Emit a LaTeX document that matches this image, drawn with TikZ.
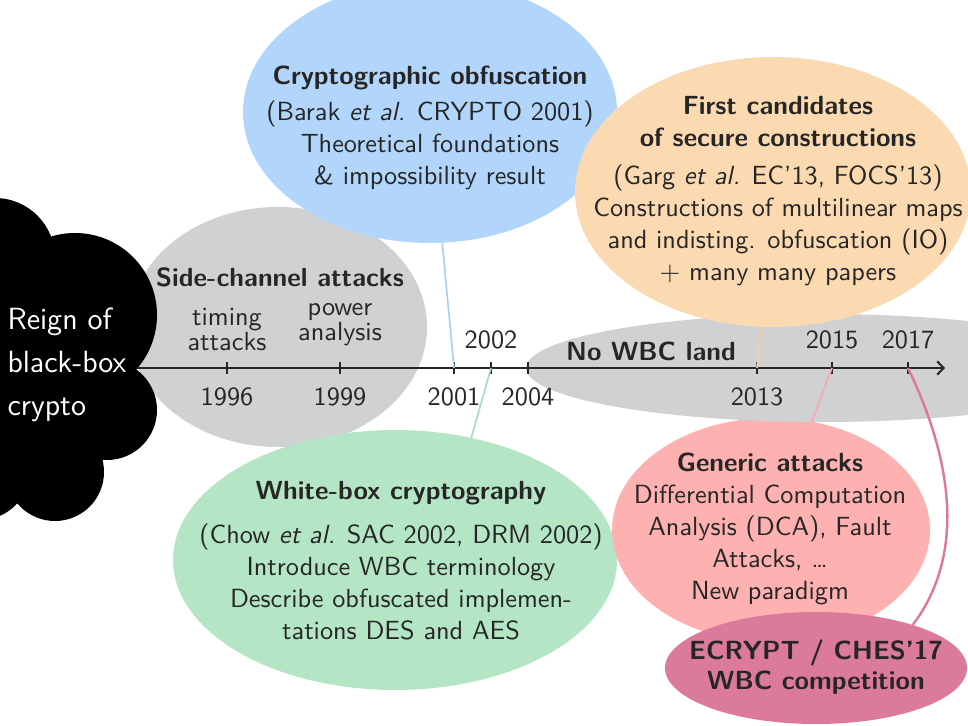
\documentclass[tikz,border=0pt]{standalone}
\usetikzlibrary{shapes.geometric,arrows.meta}

\definecolor{ink}{RGB}{38,38,38}
\definecolor{scgray}{RGB}{208,209,211}
\definecolor{skyblue}{RGB}{178,214,251}
\definecolor{peach}{RGB}{251,218,178}
\definecolor{mint}{RGB}{180,230,197}
\definecolor{rose}{RGB}{253,177,177}
\definecolor{berry}{RGB}{220,122,155}
\definecolor{skyline}{RGB}{170,205,245}
\definecolor{mintline}{RGB}{165,222,182}
\definecolor{peachline}{RGB}{248,206,158}
\definecolor{roseline}{RGB}{248,168,172}
\definecolor{berryline}{RGB}{222,120,155}

\begin{document}
\begin{tikzpicture}[
  x=0.375pt, y=-0.375pt,
  % filled ellipse of given fill, x radius and y radius (in px units)
  blob/.style n args={3}{ellipse, fill=#1, draw=none,
    minimum width=#2*0.75pt, minimum height=#3*0.75pt,
    inner sep=0pt, outer sep=0pt},
  txt/.style={font=\sffamily\fontsize{9.85}{12}\selectfont, text=ink,
    align=center, inner sep=0pt},
  boldtxt/.style={txt, font=\sffamily\bfseries\fontsize{9.85}{12}\selectfont},
  pairtxt/.style={txt, font=\sffamily\fontsize{9.85}{9.4}\selectfont},
  axisline/.style={draw=ink, line width=0.75pt,
    -{Straight Barb[length=2.4pt,width=5pt,line width=0.75pt]}},
  tickmark/.style={draw=ink, line width=0.75pt},
  link/.style={draw=#1, line width=0.6pt},
]
\useasboundingbox (0,0) rectangle (968,726);

% ---- background bubbles ----
\node[blob={scgray}{149}{120}] (side) at (278,327) {};
\node[blob={skyblue}{187}{131}] (obf) at (430,112) {};
\node[blob={mint}{222}{130}] (wbc) at (395,560) {};
\node[blob={rose}{159}{112}] (generic) at (771,530) {};
\node[blob={scgray}{296}{54}] (nowbc) at (822,368) {};
\node[blob={peach}{198}{135}] (cand) at (773,192) {};
\node[blob={berry}{151}{56}] (ecrypt) at (816,668) {};

% ---- black cloud on the left ----
\fill[black] (-5,258) circle[radius=60]
             (75,315) circle[radius=82]
             (107,410) circle[radius=50]
             (55,472) circle[radius=49]
             (-20,470) circle[radius=50]
             (30,380) circle[radius=100];
\node[anchor=west, align=left, inner sep=0pt, text=white,
      font=\sffamily\fontsize{11.5}{16.1}\selectfont] (reign) at (7,365)
      {Reign of\\black-box\\crypto};

% ---- timeline ----
\coordinate (axs) at (137,368);
\coordinate (axe) at (945,368);
\draw[axisline] (axs) -- (axe);
\foreach \yr/\xx in {1996/227,1999/340,2001/454,2002/491,2004/528,2013/757,2015/832,2017/908}{
  \coordinate (t\yr) at (\xx,368);
  \draw[tickmark] ([yshift=2.25pt]t\yr) -- ([yshift=-2.25pt]t\yr);
}
\foreach \yr/\xx in {1996/227,1999/340,2001/454,2004/528,2013/757}{
  \node[txt] (y\yr) at (\xx,397) {\yr};
}
\foreach \yr/\xx in {2002/491,2015/832,2017/908}{
  \node[txt] (y\yr) at (\xx,340) {\yr};
}

% ---- connectors from the years to the bubbles ----
\draw[link=skyline] (t2001) -- (obf);
\draw[link=mintline] (t2002) -- (wbc.58);
\draw[link=peachline] (t2013) -- (cand);
\draw[link=roseline] (t2015) -- (generic);
\draw[draw=berryline, line width=0.9pt] (t2017) .. controls (957,470) and (962,560) .. (ecrypt.24);

% ---- texts ----
\node[boldtxt] (side-t) at (280,277) {Side-channel attacks};
\node[pairtxt] (timing) at (227,329.5) {timing\\attacks};
\node[pairtxt] (power) at (340,324.5) {power\\analysis};
\node[boldtxt] (nowbc-t) at (651,351) {No WBC land};

\node[txt] (obf-t) at (430,128)
  {\textbf{Cryptographic obfuscation}\\[1.5pt]
   (Barak \textit{et al.} CRYPTO 2001)\\
   Theoretical foundations\\
   \& impossibility result};

\node[txt] (cand-t) at (778,191)
  {\textbf{First candidates}\\
   \textbf{of secure constructions}\\[2.2pt]
   (Garg \textit{et al.} EC'13, FOCS'13)\\
   Constructions of multilinear maps\\
   and indisting. obfuscation (IO)\\
   $+$ many many papers};

\node[txt] (wbc-t) at (401,561)
  {\textbf{White-box cryptography}\\[4.5pt]
   (Chow \textit{et al.} SAC 2002, DRM 2002)\\
   Introduce WBC terminology\\
   Describe obfuscated implemen-\\
   tations DES and AES};

\node[txt] (gen-t) at (770,529)
  {\textbf{Generic attacks}\\
   Differential Computation\\
   Analysis (DCA), Fault\\
   Attacks, \ldots\\
   New paradigm};

\node[txt, font=\sffamily\bfseries\fontsize{9.85}{11.3}\selectfont] (ecrypt-t) at (816,667)
  {ECRYPT / CHES'17\\WBC competition};
\end{tikzpicture}
\end{document}
